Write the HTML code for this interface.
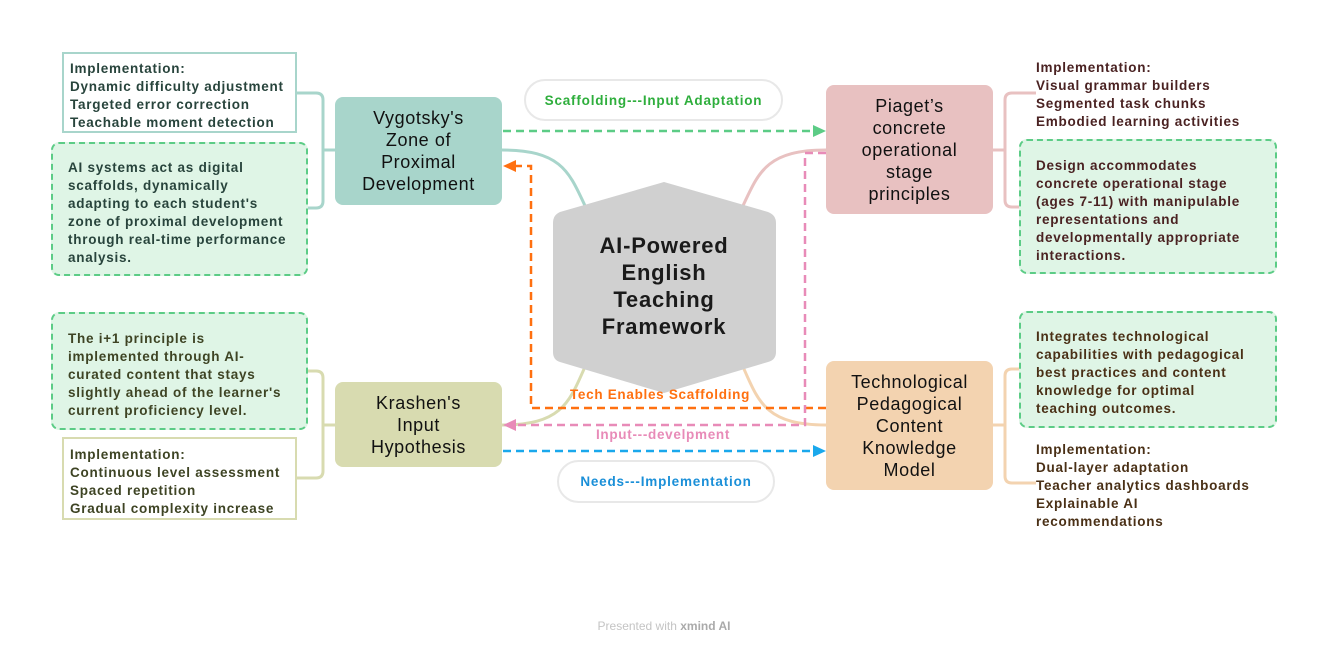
<!DOCTYPE html>
<html><head><meta charset="utf-8"><style>
body{margin:0;width:1328px;height:652px;background:#fff;position:relative;overflow:hidden;font-family:"Liberation Sans",sans-serif;}
.a{position:absolute;box-sizing:border-box;}
.node{display:flex;align-items:center;justify-content:center;text-align:center;border-radius:8px;font-size:18px;letter-spacing:0.6px;line-height:22px;color:#111;}
.t{font-size:13.5px;letter-spacing:0.75px;font-weight:bold;line-height:18px;white-space:nowrap;}
.g{background:#dff5e6;border:2px dashed #5ccc86;border-radius:8px;}
.pill{border:2px solid #e8e8e8;border-radius:22px;display:flex;align-items:center;justify-content:center;font-size:13.5px;letter-spacing:0.8px;font-weight:bold;}
</style></head><body>
<svg class="a" style="left:0;top:0" width="1328" height="652">
<g fill="none" stroke-width="3">
<path d="M502,150 C565,150 570,175 588,212" stroke="#a8d5cb"/>
<path d="M826,150 C763,150 758,175 740,212" stroke="#e8c1c1"/>
<path d="M502,425 C565,425 570,400 588,360" stroke="#d8dbb0"/>
<path d="M826,425 C763,425 758,400 740,360" stroke="#f3d3b0"/>
<path d="M335,150 H323 M297,93 H316 Q323,93 323,100 V201 Q323,208 316,208 H297" stroke="#a8d5cb"/>
<path d="M335,425 H323 M297,371 H316 Q323,371 323,378 V471 Q323,478 316,478 H297" stroke="#d8dbb0"/>
<path d="M993,150 H1005 M1036,93 H1012 Q1005,93 1005,100 V200 Q1005,207 1012,207 H1036" stroke="#e8c1c1"/>
<path d="M993,425 H1005 M1036,369 H1012 Q1005,369 1005,376 V476 Q1005,483 1012,483 H1036" stroke="#f3d3b0"/>
</g>
<g fill="none" stroke-width="2.5" stroke-dasharray="8,5">
<path d="M503,131 H814" stroke="#5ccc86"/>
<path d="M826,408 H531 V166 H515" stroke="#ff7010"/>
<path d="M826,153 H805 V425 H515" stroke="#e88bb8"/>
<path d="M503,451 H814" stroke="#1aa8ec"/>
</g>
<polygon points="826,131 813,125 813,137" fill="#5ccc86"/>
<polygon points="503,166 516,160 516,172" fill="#ff7010"/>
<polygon points="503,425 516,419 516,431" fill="#e88bb8"/>
<polygon points="826,451 813,445 813,457" fill="#1aa8ec"/>
<path d="M664,182 L768,212 Q776,215 776,223 L776,352 Q776,360 768,362 L664,393 L560,362 Q553,360 553,352 L553,223 Q553,215 560,212 Z" fill="#d0d0d0"/>
<g font-family="Liberation Sans" font-weight="bold" font-size="22" fill="#1a1a1a" text-anchor="middle" letter-spacing="0.8">
<text x="664" y="253">AI-Powered</text>
<text x="664" y="280">English</text>
<text x="664" y="307">Teaching</text>
<text x="664" y="334">Framework</text>
</g>
<text x="660" y="399" text-anchor="middle" font-family="Liberation Sans" font-weight="bold" font-size="13.5" letter-spacing="0.7" fill="#ff7010">Tech Enables Scaffolding</text>
<text x="663" y="439" text-anchor="middle" font-family="Liberation Sans" font-weight="bold" font-size="13.5" letter-spacing="0.7" fill="#e88bb8">Input---develpment</text>
</svg>
<div class="a node" style="left:335px;top:97px;width:167px;height:108px;background:#a8d5cb">Vygotsky's<br>Zone of<br>Proximal<br>Development</div>
<div class="a node" style="left:335px;top:382px;width:167px;height:85px;background:#d8dbb0">Krashen's<br>Input<br>Hypothesis</div>
<div class="a node" style="left:826px;top:85px;width:167px;height:129px;background:#e8c1c1">Piaget’s<br>concrete<br>operational<br>stage<br>principles</div>
<div class="a node" style="left:826px;top:361px;width:167px;height:129px;background:#f3d3b0">Technological<br>Pedagogical<br>Content<br>Knowledge<br>Model</div>

<div class="a t" style="left:62px;top:52px;width:235px;height:81px;border:2px solid #a8d5cb;padding:6px 0 0 6px;color:#28443c">Implementation:<br>Dynamic difficulty adjustment<br>Targeted error correction<br>Teachable moment detection</div>
<div class="a g t" style="left:51px;top:142px;width:257px;height:134px;padding:15px 0 0 15px;color:#28443c">AI systems act as digital<br>scaffolds, dynamically<br>adapting to each student's<br>zone of proximal development<br>through real-time performance<br>analysis.</div>
<div class="a g t" style="left:51px;top:312px;width:257px;height:118px;padding:16px 0 0 15px;color:#3e4424">The i+1 principle is<br>implemented through AI-<br>curated content that stays<br>slightly ahead of the learner's<br>current proficiency level.</div>
<div class="a t" style="left:62px;top:437px;width:235px;height:83px;border:2px solid #d8dbb0;padding:7px 0 0 6px;color:#3e4424">Implementation:<br>Continuous level assessment<br>Spaced repetition<br>Gradual complexity increase</div>

<div class="a t" style="left:1036px;top:59px;color:#4a2222">Implementation:<br>Visual grammar builders<br>Segmented task chunks<br>Embodied learning activities</div>
<div class="a g t" style="left:1019px;top:139px;width:258px;height:135px;padding:16px 0 0 15px;color:#4a2222">Design accommodates<br>concrete operational stage<br>(ages 7-11) with manipulable<br>representations and<br>developmentally appropriate<br>interactions.</div>
<div class="a g t" style="left:1019px;top:311px;width:258px;height:117px;padding:15px 0 0 15px;color:#4a3016">Integrates technological<br>capabilities with pedagogical<br>best practices and content<br>knowledge for optimal<br>teaching outcomes.</div>
<div class="a t" style="left:1036px;top:441px;color:#4a3016">Implementation:<br>Dual-layer adaptation<br>Teacher analytics dashboards<br>Explainable AI<br>recommendations</div>

<div class="a pill" style="left:524px;top:79px;width:259px;height:42px;color:#2eae3c">Scaffolding---Input Adaptation</div>
<div class="a pill" style="left:557px;top:460px;width:218px;height:43px;color:#1a8fd8">Needs---Implementation</div>
<div class="a" style="left:0;width:1328px;top:619px;text-align:center;font-size:12px;color:#c4c4c4">Presented with <b style="color:#aaa">xmind AI</b></div>
</body></html>
